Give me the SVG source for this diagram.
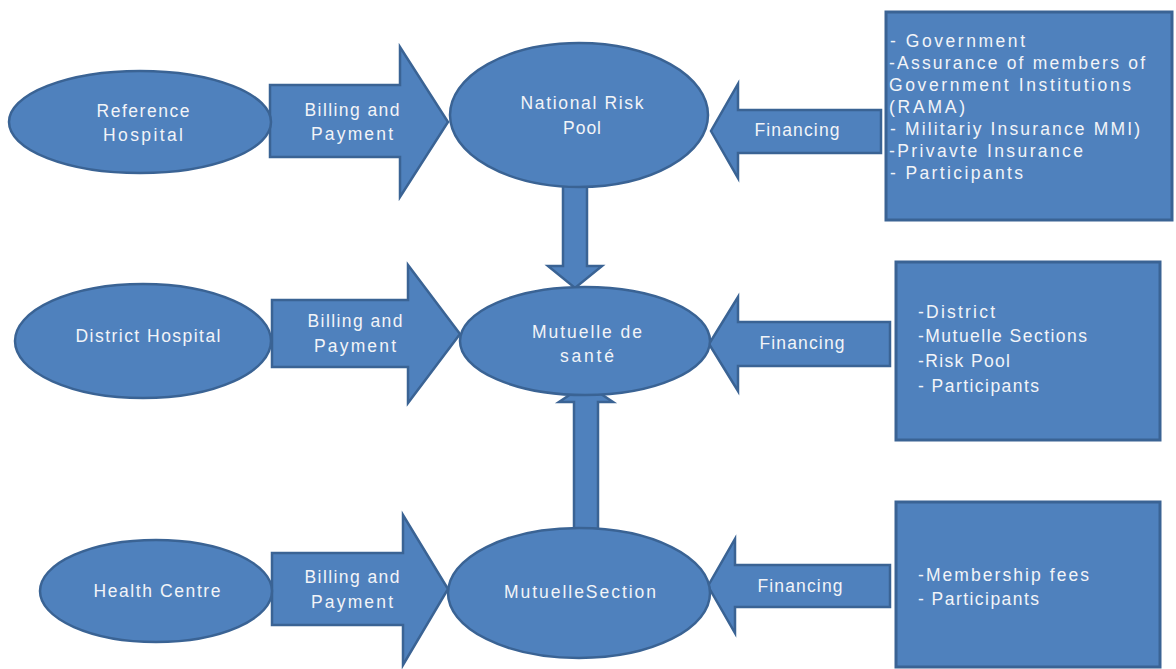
<svg xmlns="http://www.w3.org/2000/svg" width="1176" height="669" viewBox="0 0 1176 669">
<style>
.shape{fill:#4f81bd;stroke:#3a6394;stroke-width:2.5}
.box{fill:#4f81bd;stroke:#3a6394;stroke-width:3}
text{font-family:"Liberation Sans",Arial,sans-serif;font-size:17.5px;fill:#f2f4f8}
.c{text-anchor:middle}
</style>
<rect width="1176" height="669" fill="#ffffff"/>
<g id="connectors">
  <polygon class="shape" points="270,85 400,85 400,47 448,122 400,197 400,157 270,157"/>
  <text class="c" x="352" y="116" textLength="95" lengthAdjust="spacing">Billing and</text>
  <text class="c" x="352" y="140" textLength="82" lengthAdjust="spacing">Payment</text>
  <polygon class="shape" points="272,300 408,300 408,265 460,334 408,403 408,367 272,367"/>
  <text class="c" x="355" y="327" textLength="95" lengthAdjust="spacing">Billing and</text>
  <text class="c" x="355" y="352" textLength="82" lengthAdjust="spacing">Payment</text>
  <polygon class="shape" points="272,553 403,553 403,515 448,589 403,665 403,625 272,625"/>
  <text class="c" x="352" y="583" textLength="95" lengthAdjust="spacing">Billing and</text>
  <text class="c" x="352" y="608" textLength="82" lengthAdjust="spacing">Payment</text>
  <polygon class="shape" points="881,110 738,110 738,84 711,131 738,178 738,153 881,153"/>
  <text class="c" x="797" y="136" textLength="85" lengthAdjust="spacing">Financing</text>
  <polygon class="shape" points="890,322 738,322 738,297 709,344 738,391 738,366 890,366"/>
  <text class="c" x="802" y="349" textLength="85" lengthAdjust="spacing">Financing</text>
  <polygon class="shape" points="890,565 735,565 735,539 708,586 735,633 735,607 890,607"/>
  <text class="c" x="800" y="592" textLength="85" lengthAdjust="spacing">Financing</text>
  <polygon class="shape" points="563,185 587,185 587,266 602,266 575,288 548,266 563,266"/>
  <polygon class="shape" points="574,529 598,529 598,402 613,402 586,384 559,402 574,402"/>
</g>
<g id="reference-hospital">
  <ellipse class="shape" cx="140" cy="122" rx="131" ry="51"/>
  <text class="c" x="143" y="117" textLength="93" lengthAdjust="spacing">Reference</text>
  <text class="c" x="143" y="141" textLength="80" lengthAdjust="spacing">Hospital</text>
</g>
<g id="national-risk-pool">
  <ellipse class="shape" cx="579" cy="115" rx="129" ry="72"/>
  <text class="c" x="582" y="109" textLength="123" lengthAdjust="spacing">National Risk</text>
  <text class="c" x="582" y="134" textLength="38" lengthAdjust="spacing">Pool</text>
</g>
<g id="financing-sources-1">
  <rect class="box" x="886" y="12" width="286" height="208"/>
  <text x="890" y="47" textLength="135" lengthAdjust="spacing">- Government</text>
  <text x="889" y="69" textLength="256" lengthAdjust="spacing">-Assurance of members of</text>
  <text x="889" y="91" textLength="242" lengthAdjust="spacing">Government Institutions</text>
  <text x="889" y="113" textLength="76" lengthAdjust="spacing">(RAMA)</text>
  <text x="890" y="135" textLength="250" lengthAdjust="spacing">- Militariy Insurance MMI)</text>
  <text x="889" y="157" textLength="194" lengthAdjust="spacing">-Privavte Insurance</text>
  <text x="890" y="179" textLength="133" lengthAdjust="spacing">- Participants</text>
</g>
<g id="district-hospital">
  <ellipse class="shape" cx="143" cy="341" rx="128" ry="57"/>
  <text class="c" x="148" y="342" textLength="145" lengthAdjust="spacing">District Hospital</text>
</g>
<g id="mutuelle-de-sante">
  <ellipse class="shape" cx="585" cy="341" rx="125" ry="54"/>
  <text class="c" x="587" y="338" textLength="110" lengthAdjust="spacing">Mutuelle de</text>
  <text class="c" x="587" y="362" textLength="54" lengthAdjust="spacing">santé</text>
</g>
<g id="financing-sources-2">
  <rect class="box" x="896" y="262" width="264" height="178"/>
  <text x="918" y="318" textLength="77" lengthAdjust="spacing">-District</text>
  <text x="918" y="342" textLength="169" lengthAdjust="spacing">-Mutuelle Sections</text>
  <text x="918" y="367" textLength="92" lengthAdjust="spacing">-Risk Pool</text>
  <text x="918" y="392" textLength="121" lengthAdjust="spacing">- Participants</text>
</g>
<g id="health-centre">
  <ellipse class="shape" cx="156" cy="591" rx="116" ry="51"/>
  <text class="c" x="157" y="597" textLength="127" lengthAdjust="spacing">Health Centre</text>
</g>
<g id="mutuelle-section">
  <ellipse class="shape" cx="579" cy="593" rx="131" ry="65"/>
  <text class="c" x="580" y="598" textLength="152" lengthAdjust="spacing">MutuelleSection</text>
</g>
<g id="financing-sources-3">
  <rect class="box" x="896" y="502" width="264" height="165"/>
  <text x="918" y="581" textLength="171" lengthAdjust="spacing">-Membership fees</text>
  <text x="918" y="605" textLength="121" lengthAdjust="spacing">- Participants</text>
</g>
</svg>
